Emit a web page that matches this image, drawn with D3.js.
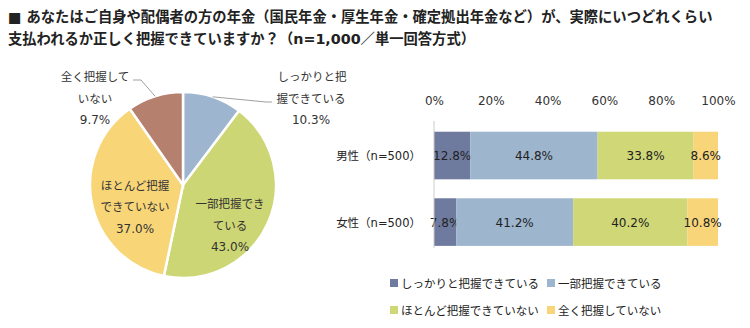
<!DOCTYPE html>
<html><head><meta charset="utf-8">
<script src="https://cdn.jsdelivr.net/npm/d3@7"></script>
<style>
html,body{margin:0;padding:0;background:#fff;}
svg{display:block;font-family:"DejaVu Sans","Noto Sans CJK JP",sans-serif;}
</style></head>
<body>
<script>
const titleLines = ["■ あなたはご自身や配偶者の方の年金（国民年金・厚生年金・確定拠出年金など）が、実際にいつどれくらい",
                    "支払われるか正しく把握できていますか？（n=1,000／単一回答方式）"];
const categories = ["しっかりと把握できている","一部把握できている","ほとんど把握できていない","全く把握していない"];
const pieValues = [10.3, 43.0, 37.0, 9.7];
const pieColors = ["#9DB5CF","#CDD674","#F8D678","#B5806E"];
const barGroups = ["男性（n=500）","女性（n=500）"];
const barMale = [12.8, 44.8, 33.8, 8.6];
const barFemale = [7.8, 41.2, 40.2, 10.8];
const barColors = ["#6F7A9F","#9DB5CD","#D0D777","#F9D57A"];
const tickValues = [0,20,40,60,80,100];

const W=750,H=328;
const svg = d3.select("body").append("svg").attr("width",W).attr("height",H);

// title
svg.selectAll("text.title").data(titleLines).enter().append("text")
  .attr("x",8).attr("y",(d,i)=>22+i*22)
  .attr("font-size",14.3).attr("font-weight","bold").attr("fill","#222")
  .text(d=>d);

// pie
const cx=183, cy=185, R=93;
const pie = d3.pie().sort(null).value(d=>d)(pieValues);
const arc = d3.arc().innerRadius(0).outerRadius(R);
const pg = svg.append("g").attr("transform",`translate(${cx},${cy})`);
pg.selectAll("path").data(pie).enter().append("path")
  .attr("d",arc).attr("fill",(d,i)=>pieColors[i])
  .attr("stroke","#fff").attr("stroke-width",2.5);

const fsJ=11.5, fsN=12;
function lines(g,arr,x,y0,anchor){
  arr.forEach((t,i)=>g.append("text").attr("x",x).attr("y",y0+i*21.5)
    .attr("text-anchor",anchor).attr("font-size",/%$/.test(t)?fsN:fsJ).attr("fill","#333").text(t));
}
const fmt = v=>v.toFixed(1)+"%";
function edgePoint(d,r){const a=(d.startAngle+d.endAngle)/2;return [cx+r*Math.sin(a), cy-r*Math.cos(a)];}
const pB = edgePoint(pie[0],R);
svg.append("polyline").attr("points",`${pB[0]},${pB[1]} 266,102 272,102`)
  .attr("fill","none").attr("stroke","#888").attr("stroke-width",0.8);
const pR = edgePoint(pie[3],R);
svg.append("polyline").attr("points",`${pR[0]},${pR[1]} 141,80 133,80`)
  .attr("fill","none").attr("stroke","#888").attr("stroke-width",0.8);

lines(svg,["しっかりと把"],312,81,"middle");
lines(svg,["握できている",fmt(pieValues[0])],311,102.5,"middle");
lines(svg,["全く把握して"],95,81,"middle");
lines(svg,["いない",fmt(pieValues[3])],95,102.5,"middle");
lines(svg,["一部把握でき","ている",fmt(pieValues[1])],230,208,"middle");
lines(svg,["ほとんど把握","できていない",fmt(pieValues[2])],135,189.5,"middle");

// bars
const x = d3.scaleLinear().domain([0,100]).range([434,718]);
const y = d3.scaleBand().domain(barGroups).range([122,255.6]).paddingInner(0.285).paddingOuter(0.146);
const barData = [barMale, barFemale];
barData.forEach((vals,gi)=>{
  let acc=0;
  const g=svg.append("g");
  vals.forEach((v,i)=>{
    const x0=acc; acc+=v;
    g.append("rect").attr("x",x(x0)).attr("y",y(barGroups[gi]))
      .attr("width",x(acc)-x(x0)).attr("height",y.bandwidth()).attr("fill",barColors[i]);
    g.append("text").attr("x",(x(x0)+x(acc))/2).attr("y",y(barGroups[gi])+y.bandwidth()/2+4.5)
      .attr("text-anchor","middle").attr("font-size",fsN).attr("fill","#222").text(fmt(v));
  });
});
svg.append("line").attr("x1",x(0)).attr("x2",x(0)).attr("y1",121).attr("y2",248)
  .attr("stroke","#ccc").attr("stroke-width",1);
// ticks
const ax = svg.append("g").attr("transform","translate(0,108)")
  .call(d3.axisTop(x).tickValues(tickValues).tickSize(0).tickFormat(d=>d+"%"));
ax.select(".domain").remove();
ax.selectAll("text").attr("font-size",fsN).attr("fill","#333").attr("font-family","\"DejaVu Sans\",sans-serif");
// categories
svg.selectAll("text.cat").data(barGroups).enter().append("text")
  .attr("x",421).attr("y",d=>y(d)+y.bandwidth()/2+4.5).attr("text-anchor","end")
  .attr("font-size",fsJ).attr("fill","#222").text(d=>d);

// legend
const legPos=[[390,283],[547,283],[390,310],[547,310]];
categories.forEach((c,i)=>{
  const [lx,ly]=legPos[i];
  svg.append("rect").attr("x",lx).attr("y",ly-4).attr("width",8).attr("height",8).attr("fill",barColors[i]);
  svg.append("text").attr("x",lx+11).attr("y",ly+4.5).attr("font-size",fsJ).attr("fill","#222").text(c);
});
</script>
</body></html>
